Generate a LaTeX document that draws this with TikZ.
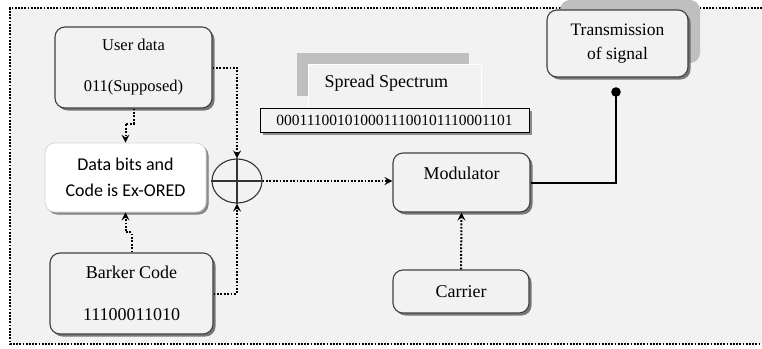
\documentclass[tikz,border=0pt]{standalone}
\usepackage{fontspec}
\setmainfont{Liberation Serif}
\newfontfamily\carl{Carlito}
\usetikzlibrary{shapes.geometric,shadows,arrows.meta}
\definecolor{bgc}{HTML}{F2F2F2}
\definecolor{shd}{HTML}{BFBFBF}
\begin{document}
\begin{tikzpicture}[x=1pt,y=-1pt,
  rbox/.style={draw=black!75, line width=1.1pt, rounded corners=10pt, fill=bgc, align=center,
     inner sep=0pt, drop shadow={shadow xshift=2.5pt, shadow yshift=-2.5pt, fill=black!65, opacity=0.8}},
  dotarrow/.style={dash pattern=on 1.8pt off 1.6pt, line width=2pt,
     -{Stealth[length=8pt,width=8pt,inset=3pt]}},
]
\useasboundingbox (0,0) rectangle (762,348);
\fill[bgc] (10,8) rectangle (762,344);
\draw[dash pattern=on 1.8pt off 1.4pt, line width=1.8pt] (775,8) -- (10,8) -- (10,344) -- (775,344);

% Transmission shadow block
\fill[shd, rounded corners=10pt] (560,0) rectangle (700,63);
% Spread spectrum blocks
\fill[shd] (297,53) rectangle (469,96);
\draw[white, line width=1pt, fill=bgc] (308,64) rectangle (481,108);
\node[anchor=west, font=\fontsize{18}{20}\selectfont] (ss) at (321,83) {Spread Spectrum};
\node[draw=black, line width=1pt, fill=bgc, minimum width=269pt, minimum height=24pt, inner sep=0pt,
  drop shadow={shadow xshift=3pt, shadow yshift=-3pt, fill=black!55, opacity=0.8},
  font=\fontsize{15.5}{17}\selectfont] (bits) at (394.5,120) {0001110010100011100101110001101};

\node[rbox, minimum width=157pt, minimum height=81pt, font=\fontsize{16.5}{41}\selectfont] (ud) at (133.5,67.5)
  {User data\\011(Supposed)};
\node[rbox, draw=black!15, line width=0.8pt, fill=white, minimum width=161pt, minimum height=69pt,
  drop shadow={shadow xshift=2pt, shadow yshift=-2pt, fill=black!40, opacity=0.6},
  font=\carl\fontsize{18}{26}\selectfont] (db) at (125.5,177.5) {Data bits and\\Code is Ex-ORED};
\node[rbox, minimum width=163pt, minimum height=81pt, font=\fontsize{18}{42}\selectfont] (bk) at (131.5,293.5)
  {Barker Code\\11100011010};
\node[rbox, minimum width=137pt, minimum height=59pt, font=\fontsize{18}{19}\selectfont] (mod) at (461.5,182.5)
  {Modulator\\~};
\node[rbox, minimum width=136pt, minimum height=43pt, font=\fontsize{18}{20}\selectfont] (car) at (461,291.5) {Carrier};
\node[rbox, minimum width=141pt, minimum height=67pt, font=\fontsize{17.5}{24}\selectfont] (tx) at (617.5,43.5)
  {Transmission\\of signal};

\node[ellipse, draw=black!80, line width=1.1pt, minimum width=50pt, minimum height=44pt, inner sep=0pt] (xor) at (237,181) {};
\draw[black!80, line width=1.1pt] (xor.west) -- (xor.east) (xor.north) -- (xor.south);

\draw[dotarrow] (ud.east) -| (xor.north);
\draw[dotarrow] (bk.east) -| (xor.south);
\draw[dotarrow] (ud.south) -- ++(0,15) -| (db.north);
\draw[dotarrow] (bk.north) -- ++(0,-20) -| (db.south);
\draw[dotarrow] (xor.east) -- (xor.east -| mod.west);
\draw[dotarrow] (car.north) -- (mod.south);

\coordinate (txdot) at (616,92);
\draw[line width=2pt] (mod.east) -| (txdot);
\fill (txdot) circle (4.8pt);
\end{tikzpicture}
\end{document}
